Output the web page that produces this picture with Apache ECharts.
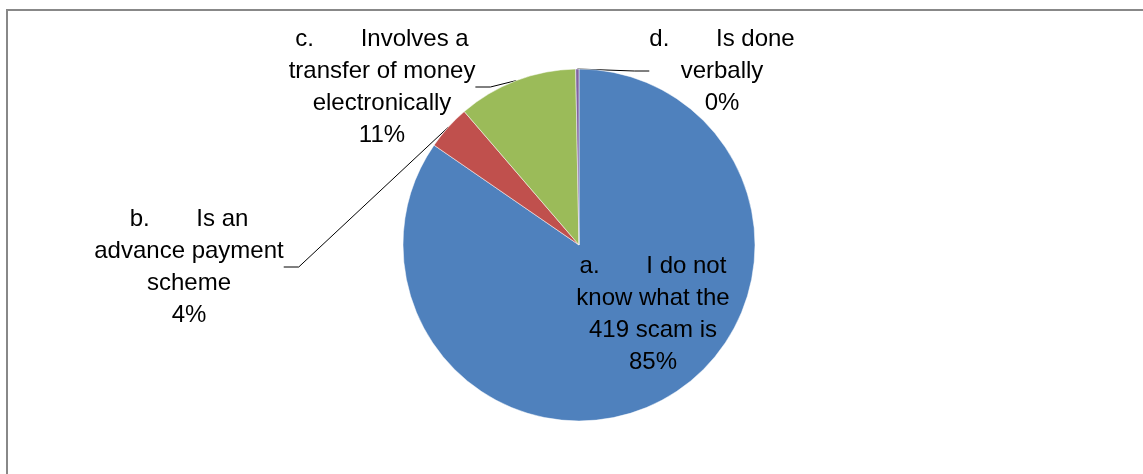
<!DOCTYPE html>
<html>
<head>
<meta charset="utf-8">
<script src="https://cdn.jsdelivr.net/npm/echarts@6/dist/echarts.min.js"></script>
<style>html,body{margin:0;padding:0;background:#fff}#c{width:1143px;height:474px}</style>
</head>
<body>
<div id="c"></div>
<script>
const categories = [
  'a.\tI do not know what the 419 scam is',
  'b.\tIs an advance payment scheme',
  'c.\tInvolves a transfer of money electronically',
  'd.\tIs done verbally'
];
const labelText = [
  'a.       I do not\nknow what the\n419 scam is',
  'b.       Is an\nadvance payment\nscheme',
  'c.       Involves a\ntransfer of money\nelectronically',
  'd.       Is done\nverbally'
];
const values = [84.6, 4.1, 11.0, 0.3];
const colors = ['#4F81BD', '#C0504D', '#9BBB59', '#8064A2'];

const chart = echarts.init(document.getElementById('c'));
const labelCenters = [[653, 314], [189, 267], [382, 87], [722, 71]];
const data = categories.map((n, i) => {
  const d = { name: n, value: values[i], itemStyle: { color: colors[i] } };
  if (i === 0) {
    d.label = { position: 'inside' };
    d.labelLine = { show: false };
  }
  return d;
});
chart.setOption({
  animation: false,
  backgroundColor: '#fff',
  graphic: [{
    type: 'rect',
    shape: { x: 7, y: 10, width: 1160, height: 490 },
    style: { fill: 'none', stroke: '#888', lineWidth: 2 }
  }],
  series: [{
    type: 'pie',
    center: [579, 245],
    radius: 176,
    startAngle: 90,
    clockwise: true,
    avoidLabelOverlap: false,
    itemStyle: { borderColor: '#fff', borderWidth: 0.5 },
    label: {
      show: true,
      position: 'outside',
      color: '#000',
      fontFamily: 'Liberation Sans',
      fontSize: 24,
      lineHeight: 32,
      align: 'center',
      formatter: p => labelText[p.dataIndex] + '\n' + Math.round(p.percent) + '%'
    },
    labelLine: { show: true, length: 15, length2: 15, lineStyle: { color: '#000', width: 1 } },
    labelLayout: p => ({
      x: labelCenters[p.dataIndex][0],
      y: labelCenters[p.dataIndex][1],
      align: 'center',
      verticalAlign: 'middle'
    }),
    emphasis: { disabled: true },
    data: data
  }]
});
</script>
</body>
</html>
